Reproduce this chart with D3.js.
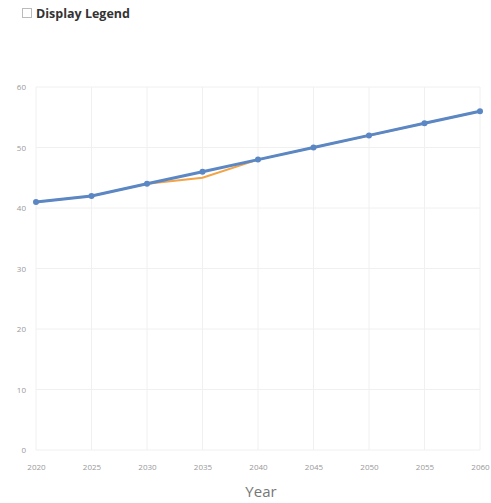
<!DOCTYPE html>
<html>
<head>
<meta charset="utf-8">
<script src="https://cdn.jsdelivr.net/npm/d3@7/dist/d3.min.js"></script>
<style>
  html, body { margin: 0; padding: 0; background: #fff; }
  svg { display: block; font-family: "Open Sans", "Noto Sans", sans-serif; }
</style>
</head>
<body>
<svg id="chart" width="491" height="503"></svg>
<script>
// Years along the x axis
const years = [2020, 2025, 2030, 2035, 2040, 2045, 2050, 2055, 2060];
// Two projection series
const seriesA = [41, 42, 44, 45, 48, 50, 52, 54, 56];   // orange
const seriesB = [41, 42, 44, 46, 48, 50, 52, 54, 56];   // blue
const yTicks = [0, 10, 20, 30, 40, 50, 60];

const svg = d3.select("#chart");
const margin = { left: 36, right: 11, top: 87, bottom: 53 };
const W = 491, H = 503;

const x = d3.scaleLinear().domain([2020, 2060]).range([margin.left, W - margin.right]);
const y = d3.scaleLinear().domain([0, 60]).range([H - margin.bottom, margin.top]);

// Legend toggle
const lg = svg.append("g");
lg.append("rect").attr("x", 22.5).attr("y", 8.5).attr("width", 9).attr("height", 9)
  .attr("fill", "#fff").attr("stroke", "#bbb").attr("stroke-width", 1);
lg.append("text").attr("x", 36).attr("y", 17.5).text("Display Legend")
  .attr("font-size", 12.5).attr("font-weight", "bold").attr("fill", "#333");

// Grid
const grid = svg.append("g");
grid.selectAll("line.h").data(yTicks).join("line").attr("class", "h")
  .attr("x1", margin.left).attr("x2", W - margin.right)
  .attr("y1", d => y(d)).attr("y2", d => y(d))
  .attr("stroke", "#f0f0f0").attr("stroke-width", 1);
grid.selectAll("line.v").data(years).join("line").attr("class", "v")
  .attr("x1", d => x(d)).attr("x2", d => x(d))
  .attr("y1", margin.top).attr("y2", H - margin.bottom)
  .attr("stroke", "#f0f0f0").attr("stroke-width", 1);

// Axes
const yAxis = d3.axisLeft(y).tickValues(yTicks).tickSize(0).tickPadding(10);
const gy = svg.append("g").attr("transform", `translate(${margin.left},0)`).call(yAxis);
gy.select(".domain").remove();
gy.selectAll("text").attr("font-size", 8).attr("fill", "#999").attr("font-family", "Open Sans, sans-serif");

const xAxis = d3.axisBottom(x).tickValues(years).tickFormat(d3.format("d")).tickSize(0).tickPadding(14);
const gx = svg.append("g").attr("transform", `translate(0,${H - margin.bottom})`).call(xAxis);
gx.select(".domain").remove();
gx.selectAll("text").attr("font-size", 8).attr("fill", "#999").attr("font-family", "Open Sans, sans-serif");

svg.append("text").attr("x", 261).attr("y", 497).attr("text-anchor", "middle")
  .attr("font-size", 15).attr("fill", "#777").text("Year");

// Lines
const line = d3.line().x((d, i) => x(years[i])).y(d => y(d));
svg.append("path").datum(seriesA).attr("d", line).attr("fill", "none")
  .attr("stroke", "#f2a346").attr("stroke-width", 2);
svg.append("path").datum(seriesB).attr("d", line).attr("fill", "none")
  .attr("stroke", "#5b87c4").attr("stroke-width", 3);
svg.append("g").selectAll("circle").data(seriesB).join("circle")
  .attr("cx", (d, i) => x(years[i])).attr("cy", d => y(d)).attr("r", 3)
  .attr("fill", "#5b87c4");
</script>
</body>
</html>
